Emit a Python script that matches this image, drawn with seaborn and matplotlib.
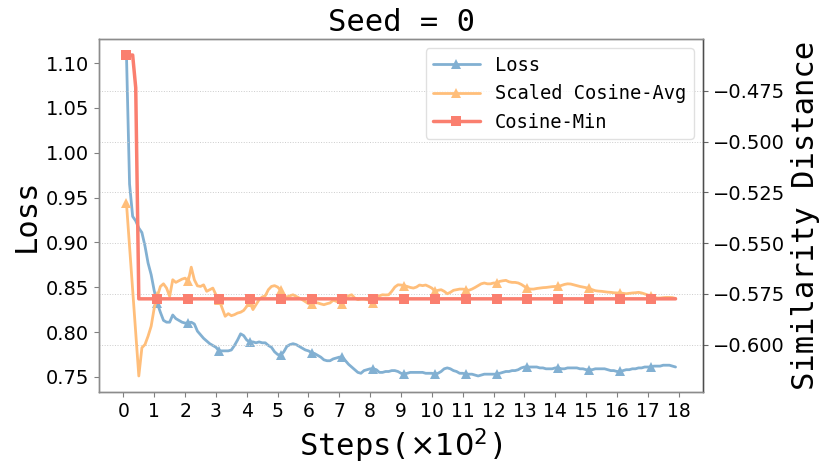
"""Loss and similarity distance over training steps (seed 0)."""
import matplotlib

matplotlib.use("Agg")
import matplotlib.pyplot as plt
import numpy as np
import pandas as pd
import seaborn as sns

# x axis: training steps in units of 100 (10, 20, ..., 1790)
steps = np.arange(10, 1800, 10) / 100

loss = [
    1.109, 0.965, 0.929, 0.924, 0.916, 0.911, 0.896, 0.877, 0.864, 0.846,
    0.832, 0.822, 0.813, 0.811, 0.811, 0.819, 0.815, 0.813, 0.811, 0.810,
    0.810, 0.811, 0.809, 0.801, 0.797, 0.793, 0.790, 0.787, 0.785, 0.783,
    0.779, 0.779, 0.779, 0.779, 0.780, 0.785, 0.791, 0.798, 0.796, 0.791,
    0.789, 0.789, 0.788, 0.789, 0.788, 0.788, 0.785, 0.783, 0.778, 0.775,
    0.774, 0.778, 0.784, 0.786, 0.787, 0.786, 0.784, 0.782, 0.780, 0.779,
    0.777, 0.776, 0.774, 0.772, 0.769, 0.768, 0.768, 0.770, 0.771, 0.772,
    0.772, 0.768, 0.764, 0.761, 0.758, 0.755, 0.754, 0.757, 0.758, 0.759,
    0.759, 0.758, 0.755, 0.755, 0.756, 0.756, 0.757, 0.757, 0.756, 0.754,
    0.753, 0.754, 0.755, 0.755, 0.755, 0.755, 0.755, 0.754, 0.754, 0.754,
    0.753, 0.754, 0.756, 0.759, 0.760, 0.759, 0.757, 0.756, 0.754, 0.754,
    0.753, 0.753, 0.753, 0.752, 0.751, 0.752, 0.753, 0.753, 0.753, 0.753,
    0.753, 0.754, 0.755, 0.756, 0.756, 0.757, 0.757, 0.758, 0.760, 0.761,
    0.761, 0.761, 0.761, 0.761, 0.760, 0.760, 0.759, 0.759, 0.759, 0.760,
    0.760, 0.759, 0.759, 0.760, 0.760, 0.760, 0.760, 0.759, 0.759, 0.758,
    0.758, 0.758, 0.759, 0.759, 0.759, 0.759, 0.758, 0.757, 0.757, 0.756,
    0.756, 0.757, 0.758, 0.758, 0.759, 0.759, 0.760, 0.760, 0.761, 0.761,
    0.761, 0.762, 0.762, 0.762, 0.763, 0.763, 0.763, 0.762, 0.761,
]

cos_avg = [
    -0.5305, -0.5518, -0.5730, -0.5943, -0.6155, -0.6016, -0.6000, -0.5959, -0.5910, -0.5820,
    -0.5763, -0.5714, -0.5701, -0.5722, -0.5763, -0.5681, -0.5694, -0.5686, -0.5678, -0.5673,
    -0.5689, -0.5619, -0.5681, -0.5711, -0.5714, -0.5706, -0.5738, -0.5730, -0.5722, -0.5755,
    -0.5779, -0.5820, -0.5861, -0.5848, -0.5858, -0.5853, -0.5845, -0.5841, -0.5832, -0.5812,
    -0.5792, -0.5828, -0.5804, -0.5779, -0.5766, -0.5760, -0.5730, -0.5714, -0.5710, -0.5717,
    -0.5733, -0.5760, -0.5766, -0.5760, -0.5755, -0.5763, -0.5771, -0.5779, -0.5789, -0.5799,
    -0.5800, -0.5795, -0.5795, -0.5800, -0.5804, -0.5799, -0.5795, -0.5782, -0.5787, -0.5795,
    -0.5802, -0.5776, -0.5760, -0.5755, -0.5771, -0.5779, -0.5776, -0.5776, -0.5779, -0.5784,
    -0.5795, -0.5771, -0.5760, -0.5755, -0.5756, -0.5755, -0.5738, -0.5717, -0.5706, -0.5707,
    -0.5710, -0.5714, -0.5719, -0.5722, -0.5717, -0.5707, -0.5710, -0.5707, -0.5714, -0.5722,
    -0.5738, -0.5733, -0.5730, -0.5738, -0.5750, -0.5743, -0.5733, -0.5730, -0.5727, -0.5727,
    -0.5730, -0.5733, -0.5727, -0.5719, -0.5710, -0.5701, -0.5697, -0.5701, -0.5701, -0.5697,
    -0.5697, -0.5689, -0.5686, -0.5684, -0.5691, -0.5694, -0.5694, -0.5697, -0.5704, -0.5714,
    -0.5724, -0.5727, -0.5727, -0.5724, -0.5722, -0.5720, -0.5719, -0.5717, -0.5715, -0.5714,
    -0.5714, -0.5709, -0.5704, -0.5701, -0.5702, -0.5706, -0.5710, -0.5714, -0.5717, -0.5720,
    -0.5724, -0.5730, -0.5735, -0.5737, -0.5738, -0.5740, -0.5742, -0.5743, -0.5745, -0.5746,
    -0.5746, -0.5748, -0.5750, -0.5748, -0.5746, -0.5745, -0.5743, -0.5746, -0.5751, -0.5756,
    -0.5760, -0.5766, -0.5771, -0.5771, -0.5769, -0.5768, -0.5768, -0.5769, -0.5773,
]

# Cosine-Min is piecewise flat, so only its corners and marker points are kept
min_steps = [0.1, 0.3, 0.4, 0.5, 1.1, 2.1, 3.1, 4.1, 5.1, 6.1, 7.1, 8.1, 9.1,
             10.1, 11.1, 12.1, 13.1, 14.1, 15.1, 16.1, 17.1, 17.9]
cos_min = [-0.4574, -0.4574, -0.4735, -0.5775, -0.5775, -0.5775, -0.5775, -0.5775,
           -0.5775, -0.5775, -0.5775, -0.5775, -0.5775, -0.5775, -0.5775, -0.5775,
           -0.5775, -0.5775, -0.5775, -0.5775, -0.5775, -0.5775]
min_marks = [0] + list(range(4, 21))

x_ticks = list(range(0, 19))
loss_ticks = [0.75, 0.80, 0.85, 0.90, 0.95, 1.00, 1.05, 1.10]
dist_ticks = [-0.600, -0.575, -0.550, -0.525, -0.500, -0.475]

BLUE, ORANGE, RED = "#82B0D2", "#FFBE7A", "#FA7F6F"
MONO = "DejaVu Sans Mono"

sns.set_theme(style="ticks")
plt.rcParams["font.family"] = ["DejaVu Sans"]
plt.rcParams["text.color"] = "black"
plt.rcParams["axes.labelcolor"] = "black"
plt.rcParams["xtick.labelcolor"] = "black"
plt.rcParams["ytick.labelcolor"] = "black"

df = pd.DataFrame({"step": steps, "loss": loss, "cos_avg": cos_avg})
dfm = pd.DataFrame({"step": min_steps, "cos_min": cos_min})

fig, ax = plt.subplots(figsize=(8.3, 4.75), dpi=100)
fig.subplots_adjust(left=0.1193, right=0.847, bottom=0.1747, top=0.9179)
ax2 = ax.twinx()

sns.lineplot(data=df, x="step", y="loss", ax=ax, color=BLUE, lw=2.0,
             marker="^", markersize=6.5, markeredgewidth=0, markevery=10, label="Loss")
sns.lineplot(data=df, x="step", y="cos_avg", ax=ax2, color=ORANGE, lw=2.0,
             marker="^", markersize=6.5, markeredgewidth=0, markevery=10,
             label="Scaled Cosine-Avg")
sns.lineplot(data=dfm, x="step", y="cos_min", ax=ax2, color=RED, lw=2.5,
             marker="s", markersize=6.5, markeredgewidth=0, markevery=min_marks,
             label="Cosine-Min")

for a in (ax, ax2):
    if a.get_legend() is not None:
        a.get_legend().remove()

ax.set_xticks(x_ticks)
ax.set_yticks(loss_ticks)
ax2.set_yticks(dist_ticks)
ax.tick_params(axis="x", labelsize=13.5, length=3.5, width=0.8, color="0.5", pad=4,
               labelcolor="black")
ax.tick_params(axis="y", labelsize=14, length=3.5, width=0.8, color="0.5",
               labelcolor="black")
ax2.tick_params(axis="y", labelsize=14, length=3.5, width=0.8, color="0.4",
                labelcolor="black")

ax.grid(False)
ax2.grid(axis="y", linestyle=":", linewidth=0.7, color="0.8")
ax2.grid(axis="x", visible=False)

for a in (ax, ax2):
    for s in a.spines.values():
        s.set_color("0.55")
        s.set_linewidth(1.0)
ax2.spines["right"].set_color("0.3")

ax.set_xlabel(r"Steps($\times10^2$)", family=MONO, fontsize=22, color="black")
ax.set_ylabel("Loss", family=MONO, fontsize=22, color="black")
ax2.set_ylabel("Similarity Distance", family=MONO, fontsize=22, color="black")
ax.set_title("Seed = 0", family=MONO, fontsize=22, color="black")

h1, l1 = ax.get_legend_handles_labels()
h2, l2 = ax2.get_legend_handles_labels()
leg = ax2.legend(h1 + h2, l1 + l2, loc="upper right", prop={"family": MONO, "size": 13.5},
                 frameon=True, edgecolor="0.85", handlelength=2.5)
for t in leg.get_texts():
    t.set_color("black")

fig.savefig("out.png", dpi=100)
plt.close(fig)
